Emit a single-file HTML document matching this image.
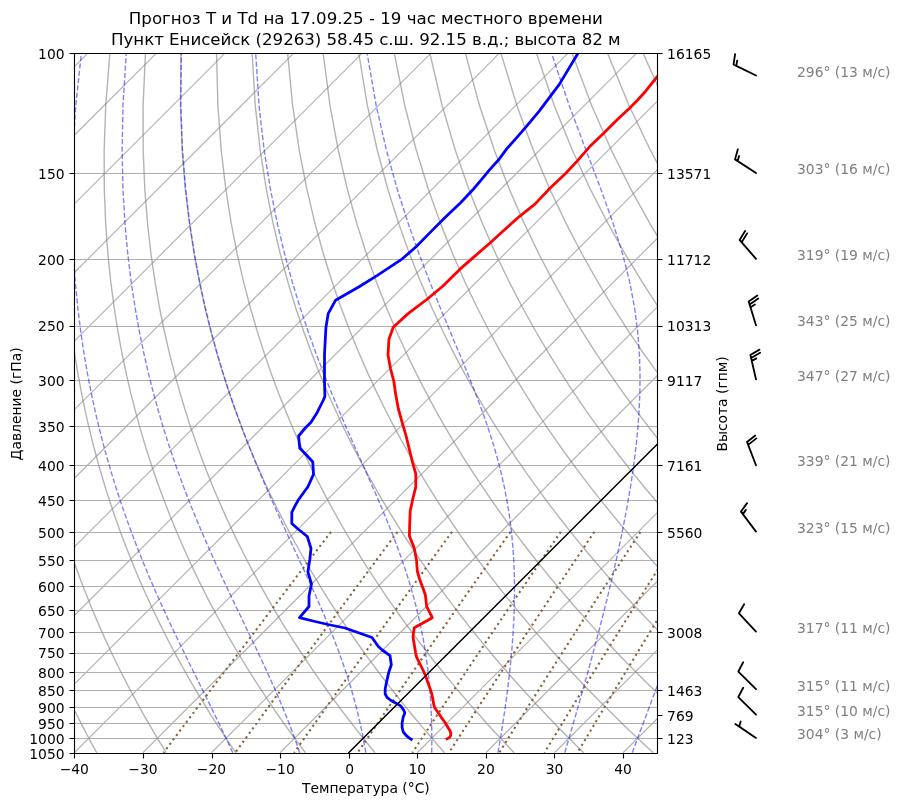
<!DOCTYPE html>
<html><head><meta charset="utf-8"><title>Прогноз T и Td</title>
<style>html,body{margin:0;padding:0;background:#fff;width:900px;height:806px;overflow:hidden}svg{display:block}</style>
</head><body>
<svg width="900" height="806" viewBox="0 0 900 806">
<defs><clipPath id="ax"><rect x="74" y="53" width="583" height="700"/></clipPath></defs>
<rect width="900" height="806" fill="#fff"/>
<g clip-path="url(#ax)" fill="none" stroke-linejoin="round">
<path d="M73.3 53.5H658.4M73.3 173.5H658.4M73.3 259.5H658.4M73.3 326.5H658.4M73.3 380.5H658.4M73.3 426.5H658.4M73.3 465.5H658.4M73.3 500.5H658.4M73.3 532.5H658.4M73.3 560.5H658.4M73.3 586.5H658.4M73.3 610.5H658.4M73.3 632.5H658.4M73.3 653.5H658.4M73.3 672.5H658.4M73.3 690.5H658.4M73.3 707.5H658.4M73.3 723.5H658.4M73.3 738.5H658.4M73.3 753.5H658.4" stroke="#b0b0b0" stroke-width="1.11"/>
<path d="M-680.3 752.75L19.74 52.71M-611.7 752.75L88.34 52.71M-543.1 752.75L156.94 52.71M-474.5 752.75L225.54 52.71M-405.9 752.75L294.14 52.71M-337.3 752.75L362.74 52.71M-268.7 752.75L431.34 52.71M-200.1 752.75L499.94 52.71M-131.5 752.75L568.54 52.71M-62.9 752.75L637.14 52.71M5.7 752.75L705.74 52.71M74.3 752.75L774.34 52.71M142.9 752.75L842.94 52.71M211.5 752.75L911.54 52.71M280.1 752.75L980.14 52.71M348.7 752.75L1048.74 52.71M417.3 752.75L1117.34 52.71M485.9 752.75L1185.94 52.71M554.5 752.75L1254.54 52.71M623.1 752.75L1323.14 52.71" stroke="#b0b0b0" stroke-width="1.11"/>
<polyline points="96.75,752.75 93.69,747.2 90.61,741.55 87.52,735.78 84.43,729.91 81.32,723.91 78.2,717.79 75.07,711.55 71.94,705.16 68.79,698.64 65.64,691.98 62.48,685.16 59.31,678.18 56.14,671.03 52.96,663.71 49.78,656.2 46.59,648.5 43.41,640.59 40.22,632.47 37.04,624.12 33.86,615.53 30.68,606.68 27.52,597.57 24.37,588.16 21.23,578.45 18.12,568.41 15.02,558.02 11.96,547.26 8.93,536.09 5.95,524.48 3.01,512.41 0.14,499.82 -2.67,486.68 -5.39,472.93 -8,458.52 -10.51,443.37 -12.86,427.41 -15.06,410.54 -17.04,392.67 -18.79,373.64 -20.24,353.33 -21.32,331.52 -21.97,307.99 -22.05,282.43 -21.43,254.48 -19.91,223.62 -17.21,189.2 -12.91,150.27 -6.39,105.47 3.34,52.71" stroke="#808080" stroke-opacity="0.6" stroke-width="1.39"/>
<polyline points="166.31,752.75 162.88,747.2 159.43,741.55 155.96,735.78 152.48,729.91 148.98,723.91 145.47,717.79 141.94,711.55 138.39,705.16 134.83,698.64 131.26,691.98 127.67,685.16 124.07,678.18 120.45,671.03 116.82,663.71 113.18,656.2 109.53,648.5 105.87,640.59 102.2,632.47 98.52,624.12 94.84,615.53 91.15,606.68 87.46,597.57 83.77,588.16 80.08,578.45 76.4,568.41 72.73,558.02 69.07,547.26 65.44,536.09 61.83,524.48 58.25,512.41 54.71,499.82 51.22,486.68 47.8,472.93 44.45,458.52 41.19,443.37 38.04,427.41 35.03,410.54 32.19,392.67 29.56,373.64 27.18,353.33 25.11,331.52 23.43,307.99 22.24,282.43 21.69,254.48 21.95,223.62 23.29,189.2 26.11,150.27 30.98,105.47 38.87,52.71" stroke="#808080" stroke-opacity="0.6" stroke-width="1.39"/>
<polyline points="235.88,752.75 232.07,747.2 228.25,741.55 224.4,735.78 220.54,729.91 216.65,723.91 212.74,717.79 208.81,711.55 204.85,705.16 200.88,698.64 196.88,691.98 192.86,685.16 188.83,678.18 184.77,671.03 180.69,663.71 176.59,656.2 172.47,648.5 168.33,640.59 164.18,632.47 160.01,624.12 155.82,615.53 151.61,606.68 147.4,597.57 143.17,588.16 138.93,578.45 134.68,568.41 130.44,558.02 126.19,547.26 121.94,536.09 117.7,524.48 113.48,512.41 109.28,499.82 105.11,486.68 100.98,472.93 96.9,458.52 92.88,443.37 88.95,427.41 85.12,410.54 81.43,392.67 77.91,373.64 74.59,353.33 71.54,331.52 68.82,307.99 66.54,282.43 64.81,254.48 63.81,223.62 63.8,189.2 65.13,150.27 68.36,105.47 74.4,52.71" stroke="#808080" stroke-opacity="0.6" stroke-width="1.39"/>
<polyline points="305.44,752.75 301.27,747.2 297.07,741.55 292.84,735.78 288.59,729.91 284.31,723.91 280.01,717.79 275.67,711.55 271.31,705.16 266.92,698.64 262.5,691.98 258.06,685.16 253.59,678.18 249.08,671.03 244.55,663.71 240,656.2 235.41,648.5 230.8,640.59 226.16,632.47 221.49,624.12 216.8,615.53 212.08,606.68 207.33,597.57 202.57,588.16 197.78,578.45 192.97,568.41 188.14,558.02 183.3,547.26 178.44,536.09 173.58,524.48 168.72,512.41 163.85,499.82 159,486.68 154.16,472.93 149.34,458.52 144.57,443.37 139.86,427.41 135.21,410.54 130.67,392.67 126.25,373.64 122,353.33 117.97,331.52 114.22,307.99 110.83,282.43 107.93,254.48 105.68,223.62 104.3,189.2 104.15,150.27 105.74,105.47 109.93,52.71" stroke="#808080" stroke-opacity="0.6" stroke-width="1.39"/>
<polyline points="375,752.75 370.46,747.2 365.89,741.55 361.28,735.78 356.65,729.91 351.98,723.91 347.27,717.79 342.54,711.55 337.77,705.16 332.96,698.64 328.13,691.98 323.25,685.16 318.34,678.18 313.4,671.03 308.42,663.71 303.4,656.2 298.35,648.5 293.26,640.59 288.14,632.47 282.97,624.12 277.78,615.53 272.54,606.68 267.27,597.57 261.97,588.16 256.63,578.45 251.25,568.41 245.85,558.02 240.41,547.26 234.95,536.09 229.46,524.48 223.95,512.41 218.42,499.82 212.88,486.68 207.34,472.93 201.79,458.52 196.27,443.37 190.76,427.41 185.3,410.54 179.91,392.67 174.6,373.64 169.42,353.33 164.4,331.52 159.61,307.99 155.13,282.43 151.06,254.48 147.54,223.62 144.81,189.2 143.16,150.27 143.11,105.47 145.47,52.71" stroke="#808080" stroke-opacity="0.6" stroke-width="1.39"/>
<polyline points="444.57,752.75 439.65,747.2 434.71,741.55 429.72,735.78 424.7,729.91 419.64,723.91 414.54,717.79 409.4,711.55 404.23,705.16 399.01,698.64 393.75,691.98 388.45,685.16 383.1,678.18 377.72,671.03 372.29,663.71 366.81,656.2 361.29,648.5 355.73,640.59 350.12,632.47 344.46,624.12 338.76,615.53 333.01,606.68 327.21,597.57 321.36,588.16 315.47,578.45 309.54,568.41 303.55,558.02 297.52,547.26 291.45,536.09 285.34,524.48 279.18,512.41 272.99,499.82 266.77,486.68 260.52,472.93 254.24,458.52 247.96,443.37 241.67,427.41 235.39,410.54 229.15,392.67 222.95,373.64 216.83,353.33 210.83,331.52 205.01,307.99 199.42,282.43 194.18,254.48 189.41,223.62 185.31,189.2 182.18,150.27 180.49,105.47 181,52.71" stroke="#808080" stroke-opacity="0.6" stroke-width="1.39"/>
<polyline points="514.13,752.75 508.85,747.2 503.53,741.55 498.16,735.78 492.75,729.91 487.3,723.91 481.81,717.79 476.27,711.55 470.68,705.16 465.05,698.64 459.37,691.98 453.64,685.16 447.86,678.18 442.03,671.03 436.15,663.71 430.22,656.2 424.23,648.5 418.19,640.59 412.1,632.47 405.94,624.12 399.74,615.53 393.47,606.68 387.15,597.57 380.76,588.16 374.32,578.45 367.82,568.41 361.26,558.02 354.64,547.26 347.96,536.09 341.22,524.48 334.42,512.41 327.56,499.82 320.66,486.68 313.7,472.93 306.69,458.52 299.65,443.37 292.58,427.41 285.48,410.54 278.38,392.67 271.3,373.64 264.24,353.33 257.27,331.52 250.4,307.99 243.72,282.43 237.3,254.48 231.27,223.62 225.81,189.2 221.2,150.27 217.87,105.47 216.53,52.71" stroke="#808080" stroke-opacity="0.6" stroke-width="1.39"/>
<polyline points="583.69,752.75 578.04,747.2 572.35,741.55 566.6,735.78 560.81,729.91 554.97,723.91 549.08,717.79 543.14,711.55 537.14,705.16 531.09,698.64 524.99,691.98 518.83,685.16 512.62,678.18 506.35,671.03 500.02,663.71 493.63,656.2 487.17,648.5 480.66,640.59 474.08,632.47 467.43,624.12 460.72,615.53 453.93,606.68 447.08,597.57 440.16,588.16 433.17,578.45 426.1,568.41 418.96,558.02 411.75,547.26 404.46,536.09 397.09,524.48 389.65,512.41 382.13,499.82 374.54,486.68 366.88,472.93 359.14,458.52 351.35,443.37 343.49,427.41 335.57,410.54 327.62,392.67 319.64,373.64 311.66,353.33 303.7,331.52 295.8,307.99 288.01,282.43 280.42,254.48 273.14,223.62 266.32,189.2 260.22,150.27 255.24,105.47 252.06,52.71" stroke="#808080" stroke-opacity="0.6" stroke-width="1.39"/>
<polyline points="653.26,752.75 647.24,747.2 641.16,741.55 635.04,735.78 628.86,729.91 622.63,723.91 616.35,717.79 610,711.55 603.6,705.16 597.14,698.64 590.61,691.98 584.03,685.16 577.38,678.18 570.66,671.03 563.88,663.71 557.03,656.2 550.11,648.5 543.12,640.59 536.05,632.47 528.91,624.12 521.7,615.53 514.4,606.68 507.02,597.57 499.56,588.16 492.02,578.45 484.39,568.41 476.67,558.02 468.86,547.26 460.96,536.09 452.97,524.48 444.88,512.41 436.7,499.82 428.43,486.68 420.06,472.93 411.59,458.52 403.04,443.37 394.39,427.41 385.66,410.54 376.86,392.67 367.99,373.64 359.07,353.33 350.13,331.52 341.19,307.99 332.31,282.43 323.55,254.48 315,223.62 306.82,189.2 299.24,150.27 292.62,105.47 287.59,52.71" stroke="#808080" stroke-opacity="0.6" stroke-width="1.39"/>
<polyline points="722.82,752.75 716.43,747.2 709.98,741.55 703.48,735.78 696.92,729.91 690.3,723.91 683.61,717.79 676.87,711.55 670.06,705.16 663.18,698.64 656.24,691.98 649.22,685.16 642.14,678.18 634.98,671.03 627.75,663.71 620.44,656.2 613.05,648.5 605.58,640.59 598.03,632.47 590.4,624.12 582.68,615.53 574.86,606.68 566.96,597.57 558.96,588.16 550.87,578.45 542.67,568.41 534.37,558.02 525.97,547.26 517.47,536.09 508.85,524.48 500.12,512.41 491.28,499.82 482.32,486.68 473.24,472.93 464.04,458.52 454.73,443.37 445.3,427.41 435.75,410.54 426.1,392.67 416.34,373.64 406.49,353.33 396.56,331.52 386.59,307.99 376.6,282.43 366.67,254.48 356.86,223.62 347.33,189.2 338.26,150.27 329.99,105.47 323.12,52.71" stroke="#808080" stroke-opacity="0.6" stroke-width="1.39"/>
<polyline points="792.38,752.75 785.62,747.2 778.8,741.55 771.92,735.78 764.97,729.91 757.96,723.91 750.88,717.79 743.73,711.55 736.51,705.16 729.22,698.64 721.86,691.98 714.42,685.16 706.9,678.18 699.3,671.03 691.61,663.71 683.85,656.2 675.99,648.5 668.05,640.59 660.01,632.47 651.88,624.12 643.66,615.53 635.33,606.68 626.9,597.57 618.36,588.16 609.71,578.45 600.96,568.41 592.08,558.02 583.09,547.26 573.97,536.09 564.73,524.48 555.35,512.41 545.85,499.82 536.2,486.68 526.42,472.93 516.49,458.52 506.42,443.37 496.21,427.41 485.84,410.54 475.33,392.67 464.68,373.64 453.9,353.33 442.99,331.52 431.98,307.99 420.9,282.43 409.79,254.48 398.73,223.62 387.83,189.2 377.28,150.27 367.37,105.47 358.65,52.71" stroke="#808080" stroke-opacity="0.6" stroke-width="1.39"/>
<polyline points="861.94,752.75 854.82,747.2 847.62,741.55 840.36,735.78 833.03,729.91 825.62,723.91 818.15,717.79 810.6,711.55 802.97,705.16 795.27,698.64 787.48,691.98 779.61,685.16 771.65,678.18 763.61,671.03 755.48,663.71 747.25,656.2 738.93,648.5 730.51,640.59 721.99,632.47 713.37,624.12 704.64,615.53 695.79,606.68 686.83,597.57 677.76,588.16 668.56,578.45 659.24,568.41 649.79,558.02 640.2,547.26 630.47,536.09 620.6,524.48 610.59,512.41 600.42,499.82 590.09,486.68 579.6,472.93 568.94,458.52 558.12,443.37 547.11,427.41 535.93,410.54 524.57,392.67 513.03,373.64 501.31,353.33 489.42,331.52 477.38,307.99 465.19,282.43 452.91,254.48 440.59,223.62 428.33,189.2 416.29,150.27 404.75,105.47 394.18,52.71" stroke="#808080" stroke-opacity="0.6" stroke-width="1.39"/>
<polyline points="931.51,752.75 924.01,747.2 916.44,741.55 908.8,735.78 901.08,729.91 893.29,723.91 885.42,717.79 877.46,711.55 869.43,705.16 861.31,698.64 853.1,691.98 844.8,685.16 836.41,678.18 827.93,671.03 819.34,663.71 810.66,656.2 801.87,648.5 792.98,640.59 783.97,632.47 774.85,624.12 765.62,615.53 756.26,606.68 746.77,597.57 737.16,588.16 727.41,578.45 717.52,568.41 707.49,558.02 697.31,547.26 686.98,536.09 676.48,524.48 665.82,512.41 654.99,499.82 643.98,486.68 632.78,472.93 621.39,458.52 609.81,443.37 598.02,427.41 586.02,410.54 573.81,392.67 561.38,373.64 548.73,353.33 535.86,331.52 522.77,307.99 509.49,282.43 496.04,254.48 482.46,223.62 468.84,189.2 455.31,150.27 442.12,105.47 429.72,52.71" stroke="#808080" stroke-opacity="0.6" stroke-width="1.39"/>
<polyline points="1001.07,752.75 993.2,747.2 985.26,741.55 977.24,735.78 969.14,729.91 960.95,723.91 952.69,717.79 944.33,711.55 935.89,705.16 927.35,698.64 918.72,691.98 910,685.16 901.17,678.18 892.24,671.03 883.21,663.71 874.07,656.2 864.81,648.5 855.44,640.59 845.95,632.47 836.34,624.12 826.6,615.53 816.72,606.68 806.71,597.57 796.56,588.16 786.26,578.45 775.81,568.41 765.2,558.02 754.42,547.26 743.48,536.09 732.36,524.48 721.05,512.41 709.56,499.82 697.86,486.68 685.96,472.93 673.84,458.52 661.5,443.37 648.93,427.41 636.11,410.54 623.05,392.67 609.73,373.64 596.14,353.33 582.29,331.52 568.17,307.99 553.78,282.43 539.16,254.48 524.32,223.62 509.34,189.2 494.33,150.27 479.5,105.47 465.25,52.71" stroke="#808080" stroke-opacity="0.6" stroke-width="1.39"/>
<polyline points="1070.63,752.75 1062.4,747.2 1054.08,741.55 1045.68,735.78 1037.19,729.91 1028.62,723.91 1019.95,717.79 1011.2,711.55 1002.34,705.16 993.39,698.64 984.34,691.98 975.19,685.16 965.93,678.18 956.56,671.03 947.08,663.71 937.47,656.2 927.75,648.5 917.91,640.59 907.93,632.47 897.82,624.12 887.58,615.53 877.19,606.68 866.65,597.57 855.96,588.16 845.11,578.45 834.09,568.41 822.9,558.02 811.54,547.26 799.98,536.09 788.24,524.48 776.29,512.41 764.13,499.82 751.75,486.68 739.14,472.93 726.29,458.52 713.2,443.37 699.84,427.41 686.2,410.54 672.29,392.67 658.07,373.64 643.55,353.33 628.72,331.52 613.56,307.99 598.08,282.43 582.28,254.48 566.19,223.62 549.85,189.2 533.35,150.27 516.88,105.47 500.78,52.71" stroke="#808080" stroke-opacity="0.6" stroke-width="1.39"/>
<polyline points="1140.2,752.75 1131.59,747.2 1122.9,741.55 1114.12,735.78 1105.25,729.91 1096.28,723.91 1087.22,717.79 1078.06,711.55 1068.8,705.16 1059.44,698.64 1049.97,691.98 1040.38,685.16 1030.69,678.18 1020.88,671.03 1010.94,663.71 1000.88,656.2 990.69,648.5 980.37,640.59 969.91,632.47 959.31,624.12 948.56,615.53 937.65,606.68 926.59,597.57 915.36,588.16 903.95,578.45 892.37,568.41 880.61,558.02 868.65,547.26 856.49,536.09 844.11,524.48 831.52,512.41 818.7,499.82 805.64,486.68 792.32,472.93 778.74,458.52 764.89,443.37 750.74,427.41 736.29,410.54 721.52,392.67 706.42,373.64 690.97,353.33 675.15,331.52 658.96,307.99 642.37,282.43 625.4,254.48 608.05,223.62 590.35,189.2 572.37,150.27 554.25,105.47 536.31,52.71" stroke="#808080" stroke-opacity="0.6" stroke-width="1.39"/>
<polyline points="1209.76,752.75 1200.78,747.2 1191.72,741.55 1182.56,735.78 1173.3,729.91 1163.95,723.91 1154.49,717.79 1144.93,711.55 1135.26,705.16 1125.48,698.64 1115.59,691.98 1105.58,685.16 1095.45,678.18 1085.19,671.03 1074.81,663.71 1064.29,656.2 1053.63,648.5 1042.83,640.59 1031.89,632.47 1020.79,624.12 1009.53,615.53 998.11,606.68 986.52,597.57 974.76,588.16 962.8,578.45 950.66,568.41 938.31,558.02 925.76,547.26 912.99,536.09 899.99,524.48 886.76,512.41 873.27,499.82 859.52,486.68 845.5,472.93 831.19,458.52 816.58,443.37 801.65,427.41 786.38,410.54 770.76,392.67 754.77,373.64 738.38,353.33 721.58,331.52 704.35,307.99 686.67,282.43 668.53,254.48 649.92,223.62 630.85,189.2 611.39,150.27 591.63,105.47 571.84,52.71" stroke="#808080" stroke-opacity="0.6" stroke-width="1.39"/>
<polyline points="1279.32,752.75 1269.98,747.2 1260.54,741.55 1251,735.78 1241.36,729.91 1231.61,723.91 1221.76,717.79 1211.79,711.55 1201.72,705.16 1191.52,698.64 1181.21,691.98 1170.77,685.16 1160.21,678.18 1149.51,671.03 1138.67,663.71 1127.7,656.2 1116.57,648.5 1105.3,640.59 1093.87,632.47 1082.28,624.12 1070.51,615.53 1058.58,606.68 1046.46,597.57 1034.15,588.16 1021.65,578.45 1008.94,568.41 996.02,558.02 982.87,547.26 969.49,536.09 955.87,524.48 941.99,512.41 927.84,499.82 913.41,486.68 898.68,472.93 883.64,458.52 868.27,443.37 852.56,427.41 836.47,410.54 820,392.67 803.12,373.64 785.79,353.33 768.01,331.52 749.75,307.99 730.96,282.43 711.65,254.48 691.78,223.62 671.36,189.2 650.4,150.27 629.01,105.47 607.37,52.71" stroke="#808080" stroke-opacity="0.6" stroke-width="1.39"/>
<polyline points="1348.89,752.75 1339.17,747.2 1329.36,741.55 1319.44,735.78 1309.41,729.91 1299.27,723.91 1289.03,717.79 1278.66,711.55 1268.18,705.16 1257.57,698.64 1246.83,691.98 1235.97,685.16 1224.96,678.18 1213.82,671.03 1202.54,663.71 1191.1,656.2 1179.51,648.5 1167.76,640.59 1155.85,632.47 1143.76,624.12 1131.49,615.53 1119.04,606.68 1106.4,597.57 1093.55,588.16 1080.5,578.45 1067.23,568.41 1053.72,558.02 1039.99,547.26 1026,536.09 1011.75,524.48 997.22,512.41 982.41,499.82 967.3,486.68 951.86,472.93 936.09,458.52 919.97,443.37 903.46,427.41 886.56,410.54 869.24,392.67 851.46,373.64 833.21,353.33 814.44,331.52 795.14,307.99 775.26,282.43 754.77,254.48 733.64,223.62 711.86,189.2 689.42,150.27 666.38,105.47 642.9,52.71" stroke="#808080" stroke-opacity="0.6" stroke-width="1.39"/>
<polyline points="1418.45,752.75 1408.36,747.2 1398.17,741.55 1387.88,735.78 1377.46,729.91 1366.94,723.91 1356.29,717.79 1345.53,711.55 1334.63,705.16 1323.61,698.64 1312.45,691.98 1301.16,685.16 1289.72,678.18 1278.14,671.03 1266.4,663.71 1254.51,656.2 1242.45,648.5 1230.23,640.59 1217.83,632.47 1205.25,624.12 1192.47,615.53 1179.51,606.68 1166.34,597.57 1152.95,588.16 1139.35,578.45 1125.51,568.41 1111.43,558.02 1097.1,547.26 1082.5,536.09 1067.63,524.48 1052.46,512.41 1036.98,499.82 1021.18,486.68 1005.04,472.93 988.54,458.52 971.66,443.37 954.37,427.41 936.65,410.54 918.48,392.67 899.81,373.64 880.62,353.33 860.88,331.52 840.53,307.99 819.55,282.43 797.89,254.48 775.51,223.62 752.36,189.2 728.44,150.27 703.76,105.47 678.43,52.71" stroke="#808080" stroke-opacity="0.6" stroke-width="1.39"/>
<polyline points="1488.01,752.75 1477.56,747.2 1466.99,741.55 1456.32,735.78 1445.52,729.91 1434.6,723.91 1423.56,717.79 1412.39,711.55 1401.09,705.16 1389.65,698.64 1378.08,691.98 1366.35,685.16 1354.48,678.18 1342.45,671.03 1330.27,663.71 1317.92,656.2 1305.39,648.5 1292.69,640.59 1279.81,632.47 1266.73,624.12 1253.45,615.53 1239.97,606.68 1226.27,597.57 1212.35,588.16 1198.19,578.45 1183.79,568.41 1169.14,558.02 1154.21,547.26 1139,536.09 1123.5,524.48 1107.69,512.41 1091.55,499.82 1075.07,486.68 1058.23,472.93 1040.99,458.52 1023.35,443.37 1005.28,427.41 986.74,410.54 967.71,392.67 948.16,373.64 928.04,353.33 907.31,331.52 885.93,307.99 863.85,282.43 841.02,254.48 817.37,223.62 792.87,189.2 767.46,150.27 741.14,105.47 713.96,52.71" stroke="#808080" stroke-opacity="0.6" stroke-width="1.39"/>
<polyline points="1557.57,752.75 1546.75,747.2 1535.81,741.55 1524.75,735.78 1513.57,729.91 1502.27,723.91 1490.83,717.79 1479.26,711.55 1467.55,705.16 1455.7,698.64 1443.7,691.98 1431.55,685.16 1419.24,678.18 1406.77,671.03 1394.13,663.71 1381.32,656.2 1368.33,648.5 1355.16,640.59 1341.79,632.47 1328.21,624.12 1314.43,615.53 1300.44,606.68 1286.21,597.57 1271.75,588.16 1257.04,578.45 1242.08,568.41 1226.84,558.02 1211.32,547.26 1195.51,536.09 1179.38,524.48 1162.93,512.41 1146.13,499.82 1128.96,486.68 1111.41,472.93 1093.44,458.52 1075.05,443.37 1056.19,427.41 1036.83,410.54 1016.95,392.67 996.5,373.64 975.45,353.33 953.74,331.52 931.32,307.99 908.14,282.43 884.14,254.48 859.24,223.62 833.37,189.2 806.48,150.27 778.51,105.47 749.5,52.71" stroke="#808080" stroke-opacity="0.6" stroke-width="1.39"/>
<polyline points="1627.14,752.75 1615.95,747.2 1604.63,741.55 1593.19,735.78 1581.63,729.91 1569.93,723.91 1558.1,717.79 1546.12,711.55 1534.01,705.16 1521.74,698.64 1509.32,691.98 1496.74,685.16 1484,678.18 1471.09,671.03 1458,663.71 1444.73,656.2 1431.27,648.5 1417.62,640.59 1403.77,632.47 1389.7,624.12 1375.41,615.53 1360.9,606.68 1346.15,597.57 1331.15,588.16 1315.89,578.45 1300.36,568.41 1284.55,558.02 1268.44,547.26 1252.01,536.09 1235.26,524.48 1218.16,512.41 1200.7,499.82 1182.85,486.68 1164.59,472.93 1145.89,458.52 1126.74,443.37 1107.09,427.41 1086.92,410.54 1066.19,392.67 1044.85,373.64 1022.86,353.33 1000.17,331.52 976.72,307.99 952.44,282.43 927.26,254.48 901.1,223.62 873.88,189.2 845.5,150.27 815.89,105.47 785.03,52.71" stroke="#808080" stroke-opacity="0.6" stroke-width="1.39"/>
<polyline points="1696.7,752.75 1685.14,747.2 1673.45,741.55 1661.63,735.78 1649.68,729.91 1637.59,723.91 1625.36,717.79 1612.99,711.55 1600.46,705.16 1587.78,698.64 1574.94,691.98 1561.93,685.16 1548.76,678.18 1535.4,671.03 1521.87,663.71 1508.14,656.2 1494.21,648.5 1480.09,640.59 1465.74,632.47 1451.18,624.12 1436.39,615.53 1421.37,606.68 1406.09,597.57 1390.55,588.16 1374.74,578.45 1358.64,568.41 1342.25,558.02 1325.55,547.26 1308.52,536.09 1291.14,524.48 1273.39,512.41 1255.27,499.82 1236.73,486.68 1217.77,472.93 1198.34,458.52 1178.43,443.37 1158,427.41 1137.01,410.54 1115.43,392.67 1093.2,373.64 1070.28,353.33 1046.6,331.52 1022.11,307.99 996.73,282.43 970.38,254.48 942.97,223.62 914.38,189.2 884.52,150.27 853.27,105.47 820.56,52.71" stroke="#808080" stroke-opacity="0.6" stroke-width="1.39"/>
<polyline points="232.73,752.75 230.2,747.2 227.58,741.55 224.88,735.78 222.09,729.91 219.21,723.91 216.25,717.79 213.21,711.55 210.08,705.16 206.86,698.64 203.56,691.98 200.18,685.16 196.72,678.18 193.18,671.03 189.56,663.71 185.87,656.2 182.11,648.5 178.29,640.59 174.4,632.47 170.44,624.12 166.44,615.53 162.38,606.68 158.27,597.57 154.12,588.16 149.92,578.45 145.7,568.41 141.45,558.02 137.17,547.26 132.88,536.09 128.58,524.48 124.28,512.41 119.98,499.82 115.71,486.68 111.46,472.93 107.25,458.52 103.09,443.37 99.02,427.41 95.04,410.54 91.18,392.67 87.48,373.64 83.98,353.33 80.73,331.52 77.81,307.99 75.31,282.43 73.35,254.48 72.11,223.62 71.82,189.2 72.85,150.27 75.76,105.47 81.44,52.71" stroke="#0000ff" stroke-opacity="0.5" stroke-width="1.39" stroke-dasharray="5.14,2.22"/>
<polyline points="299.66,752.75 297.79,747.2 295.81,741.55 293.74,735.78 291.56,729.91 289.27,723.91 286.87,717.79 284.35,711.55 281.72,705.16 278.96,698.64 276.08,691.98 273.07,685.16 269.94,678.18 266.68,671.03 263.29,663.71 259.77,656.2 256.13,648.5 252.35,640.59 248.45,632.47 244.43,624.12 240.3,615.53 236.04,606.68 231.68,597.57 227.22,588.16 222.66,578.45 218,568.41 213.26,558.02 208.45,547.26 203.56,536.09 198.62,524.48 193.63,512.41 188.6,499.82 183.53,486.68 178.45,472.93 173.37,458.52 168.3,443.37 163.26,427.41 158.26,410.54 153.34,392.67 148.53,373.64 143.85,353.33 139.37,331.52 135.14,307.99 131.25,282.43 127.81,254.48 124.98,223.62 122.98,189.2 122.13,150.27 122.97,105.47 126.31,52.71" stroke="#0000ff" stroke-opacity="0.5" stroke-width="1.39" stroke-dasharray="5.14,2.22"/>
<polyline points="365.81,752.75 364.88,747.2 363.86,741.55 362.75,735.78 361.55,729.91 360.25,723.91 358.85,717.79 357.34,711.55 355.72,705.16 353.96,698.64 352.08,691.98 350.05,685.16 347.88,678.18 345.55,671.03 343.06,663.71 340.4,656.2 337.57,648.5 334.55,640.59 331.33,632.47 327.93,624.12 324.32,615.53 320.51,606.68 316.49,597.57 312.27,588.16 307.85,578.45 303.22,568.41 298.4,558.02 293.39,547.26 288.19,536.09 282.83,524.48 277.31,512.41 271.65,499.82 265.86,486.68 259.95,472.93 253.95,458.52 247.87,443.37 241.74,427.41 235.58,410.54 229.41,392.67 223.26,373.64 217.18,353.33 211.2,331.52 205.38,307.99 199.79,282.43 194.54,254.48 189.76,223.62 185.65,189.2 182.51,150.27 180.81,105.47 181.3,52.71" stroke="#0000ff" stroke-opacity="0.5" stroke-width="1.39" stroke-dasharray="5.14,2.22"/>
<polyline points="431.72,752.75 431.8,747.2 431.83,741.55 431.81,735.78 431.75,729.91 431.63,723.91 431.45,717.79 431.21,711.55 430.89,705.16 430.5,698.64 430.02,691.98 429.44,685.16 428.77,678.18 427.98,671.03 427.07,663.71 426.03,656.2 424.83,648.5 423.48,640.59 421.95,632.47 420.24,624.12 418.31,615.53 416.16,606.68 413.76,597.57 411.1,588.16 408.16,578.45 404.91,568.41 401.35,558.02 397.45,547.26 393.2,536.09 388.58,524.48 383.6,512.41 378.24,499.82 372.52,486.68 366.44,472.93 360.02,458.52 353.28,443.37 346.25,427.41 338.97,410.54 331.47,392.67 323.79,373.64 315.99,353.33 308.12,331.52 300.24,307.99 292.42,282.43 284.75,254.48 277.36,223.62 270.41,189.2 264.17,150.27 259.03,105.47 255.66,52.71" stroke="#0000ff" stroke-opacity="0.5" stroke-width="1.39" stroke-dasharray="5.14,2.22"/>
<polyline points="497.95,752.75 498.91,747.2 499.87,741.55 500.83,735.78 501.78,729.91 502.72,723.91 503.66,717.79 504.59,711.55 505.5,705.16 506.4,698.64 507.28,691.98 508.13,685.16 508.97,678.18 509.77,671.03 510.53,663.71 511.26,656.2 511.93,648.5 512.55,640.59 513.11,632.47 513.59,624.12 513.98,615.53 514.28,606.68 514.46,597.57 514.5,588.16 514.39,578.45 514.11,568.41 513.62,558.02 512.89,547.26 511.89,536.09 510.58,524.48 508.9,512.41 506.81,499.82 504.24,486.68 501.14,472.93 497.43,458.52 493.04,443.37 487.92,427.41 482.01,410.54 475.27,392.67 467.7,373.64 459.31,353.33 450.17,331.52 440.36,307.99 430,282.43 419.25,254.48 408.26,223.62 397.24,189.2 386.43,150.27 376.17,105.47 367.03,52.71" stroke="#0000ff" stroke-opacity="0.5" stroke-width="1.39" stroke-dasharray="5.14,2.22"/>
<polyline points="564.78,752.75 566.4,747.2 568.06,741.55 569.74,735.78 571.44,729.91 573.18,723.91 574.94,717.79 576.73,711.55 578.55,705.16 580.4,698.64 582.29,691.98 584.2,685.16 586.15,678.18 588.12,671.03 590.14,663.71 592.18,656.2 594.25,648.5 596.36,640.59 598.51,632.47 600.68,624.12 602.88,615.53 605.12,606.68 607.38,597.57 609.67,588.16 611.99,578.45 614.32,568.41 616.67,558.02 619.02,547.26 621.37,536.09 623.72,524.48 626.03,512.41 628.31,499.82 630.51,486.68 632.62,472.93 634.59,458.52 636.38,443.37 637.92,427.41 639.12,410.54 639.87,392.67 640.03,373.64 639.38,353.33 637.68,331.52 634.61,307.99 629.78,282.43 622.76,254.48 613.19,223.62 600.89,189.2 586.04,150.27 569.23,105.47 551.35,52.71" stroke="#0000ff" stroke-opacity="0.5" stroke-width="1.39" stroke-dasharray="5.14,2.22"/>
<polyline points="632.22,752.75 634.28,747.2 636.39,741.55 638.54,735.78 640.73,729.91 642.97,723.91 645.27,717.79 647.61,711.55 650,705.16 652.45,698.64 654.96,691.98 657.53,685.16 660.17,678.18 662.87,671.03 665.63,663.71 668.47,656.2 671.39,648.5 674.38,640.59 677.46,632.47 680.63,624.12 683.89,615.53 687.24,606.68 690.7,597.57 694.26,588.16 697.95,578.45 701.75,568.41 705.68,558.02 709.74,547.26 713.95,536.09 718.32,524.48 722.85,512.41 727.56,499.82 732.45,486.68 737.54,472.93 742.85,458.52 748.38,443.37 754.16,427.41 760.21,410.54 766.53,392.67 773.14,373.64 780.07,353.33 787.31,331.52 794.87,307.99 802.73,282.43 810.82,254.48 819.02,223.62 827.06,189.2 834.39,150.27 839.87,105.47 841.09,52.71" stroke="#0000ff" stroke-opacity="0.5" stroke-width="1.39" stroke-dasharray="5.14,2.22"/>
<polyline points="330.92,531.86 325.86,538.47 320.91,544.94 316.06,551.27 311.32,557.46 306.68,563.54 302.13,569.48 297.68,575.32 293.32,581.04 289.03,586.65 284.84,592.16 280.71,597.57 276.67,602.88 272.7,608.1 268.8,613.23 264.96,618.27 261.2,623.23 257.49,628.11 253.85,632.9 250.27,637.63 246.74,642.27 243.27,646.85 239.86,651.36 236.5,655.8 233.18,660.18 229.92,664.49 226.71,668.74 223.54,672.93 220.42,677.06 217.34,681.14 214.31,685.16 211.31,689.12 208.36,693.04 205.45,696.9 202.57,700.72 199.74,704.48 196.94,708.2 194.17,711.88 191.44,715.51 188.75,719.09 186.08,722.63 183.45,726.13 180.86,729.59 178.29,733.01 175.75,736.4 173.24,739.74 170.76,743.05 168.31,746.32 165.89,749.55 163.49,752.75" stroke="#876039" stroke-width="2.08" stroke-dasharray="2.08,3.44"/>
<polyline points="397.45,531.86 392.53,538.47 387.72,544.94 383.02,551.27 378.42,557.46 373.91,563.54 369.5,569.48 365.18,575.32 360.94,581.04 356.79,586.65 352.72,592.16 348.72,597.57 344.8,602.88 340.94,608.1 337.16,613.23 333.45,618.27 329.79,623.23 326.2,628.11 322.67,632.9 319.2,637.63 315.78,642.27 312.42,646.85 309.11,651.36 305.86,655.8 302.65,660.18 299.49,664.49 296.38,668.74 293.31,672.93 290.28,677.06 287.3,681.14 284.37,685.16 281.47,689.12 278.61,693.04 275.79,696.9 273.01,700.72 270.26,704.48 267.55,708.2 264.88,711.88 262.24,715.51 259.63,719.09 257.05,722.63 254.51,726.13 251.99,729.59 249.51,733.01 247.05,736.4 244.63,739.74 242.23,743.05 239.86,746.32 237.52,749.55 235.2,752.75" stroke="#876039" stroke-width="2.08" stroke-dasharray="2.08,3.44"/>
<polyline points="451.96,531.86 447.16,538.47 442.48,544.94 437.89,551.27 433.41,557.46 429.02,563.54 424.73,569.48 420.52,575.32 416.39,581.04 412.35,586.65 408.38,592.16 404.49,597.57 400.67,602.88 396.92,608.1 393.24,613.23 389.63,618.27 386.07,623.23 382.58,628.11 379.14,632.9 375.77,637.63 372.44,642.27 369.17,646.85 365.96,651.36 362.79,655.8 359.67,660.18 356.6,664.49 353.57,668.74 350.59,672.93 347.65,677.06 344.75,681.14 341.9,685.16 339.08,689.12 336.3,693.04 333.56,696.9 330.86,700.72 328.19,704.48 325.56,708.2 322.96,711.88 320.39,715.51 317.86,719.09 315.36,722.63 312.89,726.13 310.44,729.59 308.03,733.01 305.65,736.4 303.29,739.74 300.97,743.05 298.66,746.32 296.39,749.55 294.14,752.75" stroke="#876039" stroke-width="2.08" stroke-dasharray="2.08,3.44"/>
<polyline points="510.44,531.86 505.79,538.47 501.24,544.94 496.79,551.27 492.44,557.46 488.18,563.54 484.01,569.48 479.93,575.32 475.93,581.04 472,586.65 468.16,592.16 464.38,597.57 460.68,602.88 457.05,608.1 453.48,613.23 449.97,618.27 446.53,623.23 443.14,628.11 439.81,632.9 436.54,637.63 433.32,642.27 430.16,646.85 427.04,651.36 423.97,655.8 420.95,660.18 417.98,664.49 415.05,668.74 412.16,672.93 409.31,677.06 406.51,681.14 403.75,685.16 401.02,689.12 398.33,693.04 395.68,696.9 393.07,700.72 390.49,704.48 387.94,708.2 385.42,711.88 382.94,715.51 380.49,719.09 378.07,722.63 375.68,726.13 373.32,729.59 370.99,733.01 368.69,736.4 366.41,739.74 364.16,743.05 361.94,746.32 359.74,749.55 357.57,752.75" stroke="#876039" stroke-width="2.08" stroke-dasharray="2.08,3.44"/>
<polyline points="560.77,531.86 556.24,538.47 551.81,544.94 547.48,551.27 543.25,557.46 539.11,563.54 535.05,569.48 531.08,575.32 527.19,581.04 523.37,586.65 519.63,592.16 515.97,597.57 512.37,602.88 508.83,608.1 505.36,613.23 501.96,618.27 498.61,623.23 495.32,628.11 492.09,632.9 488.91,637.63 485.78,642.27 482.71,646.85 479.68,651.36 476.7,655.8 473.77,660.18 470.88,664.49 468.04,668.74 465.24,672.93 462.48,677.06 459.75,681.14 457.07,685.16 454.43,689.12 451.82,693.04 449.25,696.9 446.71,700.72 444.21,704.48 441.74,708.2 439.3,711.88 436.9,715.51 434.52,719.09 432.18,722.63 429.86,726.13 427.57,729.59 425.31,733.01 423.08,736.4 420.87,739.74 418.69,743.05 416.54,746.32 414.41,749.55 412.3,752.75" stroke="#876039" stroke-width="2.08" stroke-dasharray="2.08,3.44"/>
<polyline points="594.35,531.86 589.9,538.47 585.56,544.94 581.31,551.27 577.16,557.46 573.1,563.54 569.12,569.48 565.23,575.32 561.41,581.04 557.67,586.65 554,592.16 550.41,597.57 546.88,602.88 543.42,608.1 540.02,613.23 536.68,618.27 533.4,623.23 530.18,628.11 527.01,632.9 523.89,637.63 520.83,642.27 517.82,646.85 514.85,651.36 511.93,655.8 509.06,660.18 506.23,664.49 503.45,668.74 500.7,672.93 498,677.06 495.34,681.14 492.71,685.16 490.12,689.12 487.57,693.04 485.05,696.9 482.57,700.72 480.12,704.48 477.7,708.2 475.32,711.88 472.97,715.51 470.64,719.09 468.35,722.63 466.08,726.13 463.84,729.59 461.63,733.01 459.45,736.4 457.29,739.74 455.16,743.05 453.05,746.32 450.97,749.55 448.91,752.75" stroke="#876039" stroke-width="2.08" stroke-dasharray="2.08,3.44"/>
<polyline points="640.41,531.86 636.08,538.47 631.85,544.94 627.72,551.27 623.68,557.46 619.73,563.54 615.86,569.48 612.07,575.32 608.36,581.04 604.73,586.65 601.17,592.16 597.67,597.57 594.24,602.88 590.88,608.1 587.57,613.23 584.33,618.27 581.15,623.23 578.02,628.11 574.94,632.9 571.91,637.63 568.94,642.27 566.02,646.85 563.14,651.36 560.31,655.8 557.52,660.18 554.78,664.49 552.07,668.74 549.41,672.93 546.79,677.06 544.21,681.14 541.66,685.16 539.15,689.12 536.67,693.04 534.23,696.9 531.83,700.72 529.45,704.48 527.11,708.2 524.8,711.88 522.52,715.51 520.26,719.09 518.04,722.63 515.85,726.13 513.68,729.59 511.54,733.01 509.42,736.4 507.33,739.74 505.27,743.05 503.23,746.32 501.21,749.55 499.22,752.75" stroke="#876039" stroke-width="2.08" stroke-dasharray="2.08,3.44"/>
<polyline points="681.73,531.86 677.52,538.47 673.4,544.94 669.37,551.27 665.44,557.46 661.59,563.54 657.82,569.48 654.13,575.32 650.52,581.04 646.98,586.65 643.51,592.16 640.11,597.57 636.77,602.88 633.5,608.1 630.28,613.23 627.13,618.27 624.03,623.23 620.98,628.11 617.99,632.9 615.05,637.63 612.16,642.27 609.32,646.85 606.52,651.36 603.77,655.8 601.06,660.18 598.39,664.49 595.77,668.74 593.18,672.93 590.63,677.06 588.12,681.14 585.65,685.16 583.21,689.12 580.81,693.04 578.44,696.9 576.1,700.72 573.8,704.48 571.52,708.2 569.28,711.88 567.06,715.51 564.88,719.09 562.72,722.63 560.59,726.13 558.49,729.59 556.41,733.01 554.36,736.4 552.33,739.74 550.33,743.05 548.35,746.32 546.4,749.55 544.46,752.75" stroke="#876039" stroke-width="2.08" stroke-dasharray="2.08,3.44"/>
<polyline points="711.88,531.86 707.74,538.47 703.71,544.94 699.76,551.27 695.9,557.46 692.13,563.54 688.44,569.48 684.82,575.32 681.28,581.04 677.81,586.65 674.41,592.16 671.08,597.57 667.81,602.88 664.61,608.1 661.46,613.23 658.37,618.27 655.33,623.23 652.35,628.11 649.42,632.9 646.55,637.63 643.72,642.27 640.93,646.85 638.2,651.36 635.5,655.8 632.85,660.18 630.24,664.49 627.67,668.74 625.14,672.93 622.65,677.06 620.2,681.14 617.78,685.16 615.39,689.12 613.04,693.04 610.73,696.9 608.44,700.72 606.19,704.48 603.97,708.2 601.77,711.88 599.61,715.51 597.47,719.09 595.37,722.63 593.28,726.13 591.23,729.59 589.2,733.01 587.2,736.4 585.22,739.74 583.26,743.05 581.33,746.32 579.42,749.55 577.53,752.75" stroke="#876039" stroke-width="2.08" stroke-dasharray="2.08,3.44"/>
<polyline points="447,738.9 449.4,737.6 450.6,735.6 450.9,733.5 450,730.8 448.6,728.5 445.2,722.7 441.1,717.1 437.9,712.3 434.7,707.8 433.9,705 432.7,698.5 431.5,692.9 430.2,688.9 428.2,683.5 425.6,676 423,670 419.5,663 416.5,656.9 415.6,652.6 414.3,644.8 413,636.9 413.4,633.4 414.3,627.7 423.8,622.5 432.3,617.7 426.7,606.6 425.3,594.7 422.8,587.8 419.8,579.8 417.3,571 416.5,560 414.2,548.1 409.4,536 409.7,523.9 410.2,511 412.6,499.7 415.8,486.8 415.8,473.9 412.6,462.6 409.4,449.7 406.3,436.7 402.8,424.6 398.4,409 395.8,395.1 393.8,381.2 390.6,369 388,355.1 388.9,339.5 393.2,327.2 408.1,313.6 427.4,299 442.7,286.3 459.7,269.4 472.6,258.1 490.3,242.7 502.9,231.3 519,216.8 535.2,203.9 549.7,188.5 565.8,173.2 577.1,161.1 589.5,146.8 603.9,133.1 618.2,118.8 629.8,108 637.2,100.5 644.7,92.3 650.6,84.9 656.6,77.4 668.6,62.4" stroke="#ff0000" stroke-width="2.78" stroke-linecap="square"/>
<polyline points="411.3,739.3 409,737.9 406.1,735.4 403.3,732 402.1,727.5 402.1,722.9 403.2,717.1 404.8,713.1 403.6,709.8 401.2,706.6 400,705.4 396.5,703.5 391,700.5 387,697.3 385.2,694 385.2,689.1 386.5,682.1 388.7,672.6 391.3,664.7 390,655.6 382.2,650 378.3,646.5 372,637.5 345,628 328,624.5 313,621 299.5,617.6 309,606.5 309,596 310,591 311.5,584 307.9,571.9 309.8,559.5 311,548.3 307.3,536.5 297.4,528.5 291.8,523.5 291.8,512.3 294.9,506.1 298.3,500 305.5,490 307.9,486.8 313.5,474.4 312.8,462 306,454.5 299.8,448.3 298.6,436 304.8,428.5 311,422.3 317.2,412.4 323.4,400 324.9,396.2 324.5,381.3 324.5,354.5 325.9,327.8 328.2,313.6 335.6,300.2 359.1,286.8 377,275.6 402.3,258.8 416.1,246.8 430,232.6 444.5,218.1 460.6,202.7 473.5,189 481.7,179.4 489.5,169.9 498.2,160.3 506.9,148.6 516.5,137.8 526,126.9 539,111.3 559.3,84.4 578.3,52.77" stroke="#0000ff" stroke-width="2.78" stroke-linecap="square"/>
<path d="M348.7 752.75L1048.74 52.71" stroke="#000" stroke-width="1.39" stroke-linecap="square"/>
</g>
<path d="M74.5 753.5V53.5H657.5V753.5Z" fill="none" stroke="#000" stroke-width="1.11" stroke-linejoin="miter" stroke-linecap="square"/>
<path d="M74.5 53.5h-5M74.5 173.5h-5M74.5 259.5h-5M74.5 326.5h-5M74.5 380.5h-5M74.5 426.5h-5M74.5 465.5h-5M74.5 500.5h-5M74.5 532.5h-5M74.5 560.5h-5M74.5 586.5h-5M74.5 610.5h-5M74.5 632.5h-5M74.5 653.5h-5M74.5 672.5h-5M74.5 690.5h-5M74.5 707.5h-5M74.5 723.5h-5M74.5 738.5h-5M74.5 753.5h-5M657.5 53.5h5M657.5 173.5h5M657.5 259.5h5M657.5 326.5h5M657.5 380.5h5M657.5 465.5h5M657.5 532.5h5M657.5 632.5h5M657.5 690.5h5M657.5 715.5h5M657.5 738.5h5M74.5 753.5v5M143.5 753.5v5M212.5 753.5v5M280.5 753.5v5M349.5 753.5v5M417.5 753.5v5M486.5 753.5v5M554.5 753.5v5M623.5 753.5v5" stroke="#000" stroke-width="1.11"/>
<g font-family="'DejaVu Sans', sans-serif" font-size="13.89">
<text x="64.58" y="59" text-anchor="end">100</text>
<text x="64.58" y="179" text-anchor="end">150</text>
<text x="64.58" y="265" text-anchor="end">200</text>
<text x="64.58" y="331" text-anchor="end">250</text>
<text x="64.58" y="386" text-anchor="end">300</text>
<text x="64.58" y="432" text-anchor="end">350</text>
<text x="64.58" y="471" text-anchor="end">400</text>
<text x="64.58" y="506" text-anchor="end">450</text>
<text x="64.58" y="538" text-anchor="end">500</text>
<text x="64.58" y="566" text-anchor="end">550</text>
<text x="64.58" y="592" text-anchor="end">600</text>
<text x="64.58" y="616" text-anchor="end">650</text>
<text x="64.58" y="638" text-anchor="end">700</text>
<text x="64.58" y="658" text-anchor="end">750</text>
<text x="64.58" y="678" text-anchor="end">800</text>
<text x="64.58" y="696" text-anchor="end">850</text>
<text x="64.58" y="713" text-anchor="end">900</text>
<text x="64.58" y="729" text-anchor="end">950</text>
<text x="64.58" y="744" text-anchor="end">1000</text>
<text x="64.58" y="759" text-anchor="end">1050</text>
<text x="667.12" y="59">16165</text>
<text x="667.12" y="179">13571</text>
<text x="667.12" y="265">11712</text>
<text x="667.12" y="331">10313</text>
<text x="667.12" y="386">9117</text>
<text x="667.12" y="471">7161</text>
<text x="667.12" y="538">5560</text>
<text x="667.12" y="638">3008</text>
<text x="667.12" y="696">1463</text>
<text x="667.12" y="721">769</text>
<text x="667.12" y="744">123</text>
<text x="74.3" y="774" text-anchor="middle">−40</text>
<text x="142.9" y="774" text-anchor="middle">−30</text>
<text x="211.5" y="774" text-anchor="middle">−20</text>
<text x="280.1" y="774" text-anchor="middle">−10</text>
<text x="349.7" y="774" text-anchor="middle">0</text>
<text x="417.3" y="774" text-anchor="middle">10</text>
<text x="485.9" y="774" text-anchor="middle">20</text>
<text x="554.5" y="774" text-anchor="middle">30</text>
<text x="623.1" y="774" text-anchor="middle">40</text>
<text x="365.85" y="793" text-anchor="middle">Температура (°C)</text>
<text transform="translate(20.89 403.93) rotate(-90)" text-anchor="middle">Давление (гПа)</text>
<text transform="translate(727.42 403.93) rotate(-90)" text-anchor="middle">Высота (гпм)</text>
<text x="365.85" y="24" text-anchor="middle" font-size="16.67" textLength="474" lengthAdjust="spacing">Прогноз T и Td на 17.09.25 - 19 час местного времени</text>
<text x="365.85" y="45" text-anchor="middle" font-size="16.67" textLength="509.6" lengthAdjust="spacing">Пункт Енисейск (29263) 58.45 с.ш. 92.15 в.д.; высота 82 м</text>
<text x="797" y="77" fill="#808080">296° (13 м/с)</text>
<text x="797" y="174" fill="#808080">303° (16 м/с)</text>
<text x="797" y="260" fill="#808080">319° (19 м/с)</text>
<text x="797" y="326" fill="#808080">343° (25 м/с)</text>
<text x="797" y="381" fill="#808080">347° (27 м/с)</text>
<text x="797" y="466" fill="#808080">339° (21 м/с)</text>
<text x="797" y="533" fill="#808080">323° (15 м/с)</text>
<text x="797" y="633" fill="#808080">317° (11 м/с)</text>
<text x="797" y="691" fill="#808080">315° (11 м/с)</text>
<text x="797" y="716" fill="#808080">315° (10 м/с)</text>
<text x="797" y="739" fill="#808080">304° (3 м/с)</text>
</g>
<path d="M756.00 75.50 L733.53 64.54 L735.11 54.18 L733.53 64.54 L736.34 65.91 L737.13 60.73 L736.34 65.91 L756.00 75.50Z M756.00 173.00 L735.03 159.38 L737.86 149.30 L735.03 159.38 L737.65 161.09 L739.07 156.04 L737.65 161.09 L756.00 173.00Z M756.00 258.80 L739.60 239.93 L745.10 231.01 L739.60 239.93 L741.65 242.29 L747.15 233.37 L741.65 242.29 L756.00 258.80Z M756.00 325.30 L748.69 301.39 L757.34 295.48 L748.69 301.39 L749.60 304.38 L758.25 298.47 L749.60 304.38 L750.52 307.37 L754.84 304.41 L750.52 307.37 L756.00 325.30Z M756.00 379.30 L750.38 354.94 L759.42 349.65 L750.38 354.94 L751.08 357.99 L760.12 352.69 L751.08 357.99 L751.78 361.03 L756.30 358.38 L751.78 361.03 L756.00 379.30Z M756.00 465.30 L747.04 441.96 L755.26 435.46 L747.04 441.96 L748.16 444.88 L756.38 438.38 L748.16 444.88 L756.00 465.30Z M756.00 531.60 L740.95 511.63 L747.06 503.12 L740.95 511.63 L742.84 514.13 L745.89 509.87 L742.84 514.13 L756.00 531.60Z M756.00 631.60 L738.95 613.32 L744.13 604.21 L738.95 613.32 L756.00 631.60Z M756.00 689.20 L738.32 671.52 L743.18 662.24 L738.32 671.52 L756.00 689.20Z M756.00 714.70 L738.32 697.02 L743.18 687.74 L738.32 697.02 L756.00 714.70Z M756.00 737.90 L735.27 723.92 L739.16 726.54 L740.66 721.52 L739.16 726.54 L756.00 737.90Z" fill="none" stroke="#000" stroke-width="1.806" stroke-linejoin="round"/>
</svg>
</body></html>
